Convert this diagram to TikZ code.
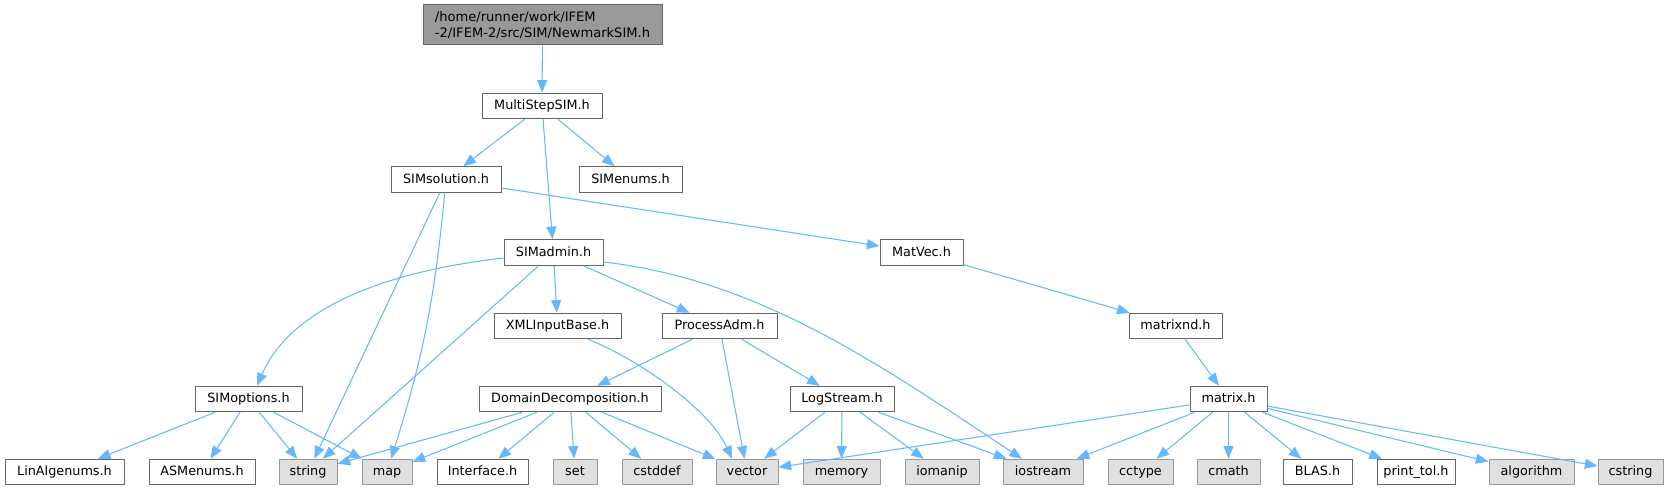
\documentclass[tikz,border=0pt]{standalone}
\usepackage{fontspec}
\setmainfont{DejaVu Sans}
\usetikzlibrary{arrows.meta,calc}
\definecolor{edgec}{HTML}{63B8FF}
\definecolor{bord}{HTML}{666666}
\definecolor{extb}{HTML}{999999}
\definecolor{extf}{HTML}{E0E0E0}
\definecolor{rootf}{HTML}{999999}
\begin{document}
\begin{tikzpicture}[x=0.75pt,y=-0.75pt,
  font=\fontsize{9.6}{11.5}\selectfont,
  box/.style={draw=bord, fill=white, line width=0.75pt, minimum height=25.5*0.75pt,
    inner sep=0pt, text=black, text height=0.75em, text depth=0.22em},
  ext/.style={box, draw=extb, fill=extf},
  bw/.style={minimum width=#1*0.75pt},
  edge/.style={draw=edgec, line width=0.8pt, -{Triangle[length=9.5pt,width=7.5pt]}}]
\useasboundingbox (0,0) rectangle (1670,491);
% nodes
\node[box, fill=rootf, bw=239, minimum height=40*0.75pt, align=left,
  text height=, text depth=, font=\fontsize{9.8}{12}\selectfont] (root) at (542.5,25)
  {/home/runner/work/IFEM\\-2/IFEM-2/src/SIM/NewmarkSIM.h};
\node[box, bw=120] (msim) at (542,106) {MultiStepSIM.h};
\node[box, bw=110] (sol) at (446,179.5) {SIMsolution.h};
\node[box, bw=103] (enums) at (630.5,179.5) {SIMenums.h};
\node[box, bw=99] (admin) at (553.5,252.5) {SIMadmin.h};
\node[box, bw=83] (matvec) at (921.5,252.5) {MatVec.h};
\node[box, bw=127] (xml) at (557.5,326) {XMLInputBase.h};
\node[box, bw=115] (proc) at (719.5,326) {ProcessAdm.h};
\node[box, bw=93] (mnd) at (1175.5,326) {matrixnd.h};
\node[box, bw=107] (opts) at (248.5,399) {SIMoptions.h};
\node[box, bw=182] (dd) at (570,399) {DomainDecomposition.h};
\node[box, bw=104] (log) at (842,399) {LogStream.h};
\node[box, bw=77] (mat) at (1228.5,399) {matrix.h};
\node[box, bw=119] (lin) at (64.5,472) {LinAlgenums.h};
\node[box, bw=106] (asm) at (202,472) {ASMenums.h};
\node[ext, bw=58] (string) at (308,472) {string};
\node[ext, bw=50] (map) at (387,472) {map};
\node[box, bw=91] (iface) at (482.5,472) {Interface.h};
\node[ext, bw=44] (set) at (575,472) {set};
\node[ext, bw=70] (cstddef) at (657,472) {cstddef};
\node[ext, bw=62] (vector) at (747,472) {vector};
\node[ext, bw=77] (memory) at (841.5,472) {memory};
\node[ext, bw=74] (iomanip) at (942,472) {iomanip};
\node[ext, bw=80] (iostream) at (1043,472) {iostream};
\node[ext, bw=65] (cctype) at (1140.5,472) {cctype};
\node[ext, bw=63] (cmath) at (1228.5,472) {cmath};
\node[box, bw=69] (blas) at (1317.5,472) {BLAS.h};
\node[box, bw=78] (ptol) at (1416,472) {print\_tol.h};
\node[ext, bw=85] (algo) at (1531.5,472) {algorithm};
\node[ext, bw=65] (cstring) at (1630.5,472) {cstring};
% edges
\draw[edge] (root) -- (msim);
\draw[edge] (msim) -- (sol);
\draw[edge] (msim) -- (admin);
\draw[edge] (msim) -- (enums);
\draw[edge] (sol) -- (matvec);
\draw[edge] (sol) -- (string);
\draw[edge] (sol) to[bend left=6] (map);
\draw[edge] ($(admin.west)+(0,5.5)$) .. controls (380,272) and (290,310) .. ($(opts.north)+(8.5,0)$);
\draw[edge] (admin) -- (string);
\draw[edge] (admin) -- (xml);
\draw[edge] (admin) -- (proc);
\draw[edge] ($(admin.east)+(0,9.5)$) .. controls (760,280) and (880,365) .. ($(iostream.north)+(-21,0)$);
\draw[edge] (matvec) -- (mnd);
\draw[edge] ($(xml.south)+(30.5,0)$) .. controls (640,360) and (710,410) .. ($(vector.north)+(-15,0)$);
\draw[edge] (proc) -- (dd);
\draw[edge] (proc) -- (vector);
\draw[edge] (proc) -- (log);
\draw[edge] (mnd) -- (mat);
\draw[edge] (opts) -- (lin);
\draw[edge] (opts) -- (asm);
\draw[edge] (opts) -- (string);
\draw[edge] (opts) -- (map);
\draw[edge] (dd) -- (string);
\draw[edge] (dd) -- (map);
\draw[edge] (dd) -- (iface);
\draw[edge] (dd) -- (set);
\draw[edge] (dd) -- (cstddef);
\draw[edge] (dd) -- (vector);
\draw[edge] (log) -- (vector);
\draw[edge] (log) -- (memory);
\draw[edge] (log) -- (iomanip);
\draw[edge] (log) -- (iostream);
\draw[edge] (mat) -- (vector);
\draw[edge] (mat) -- (iostream);
\draw[edge] (mat) -- (cctype);
\draw[edge] (mat) -- (cmath);
\draw[edge] (mat) -- (blas);
\draw[edge] (mat) -- (ptol);
\draw[edge] (mat) -- (algo);
\draw[edge] (mat) -- (cstring);
\end{tikzpicture}
\end{document}
